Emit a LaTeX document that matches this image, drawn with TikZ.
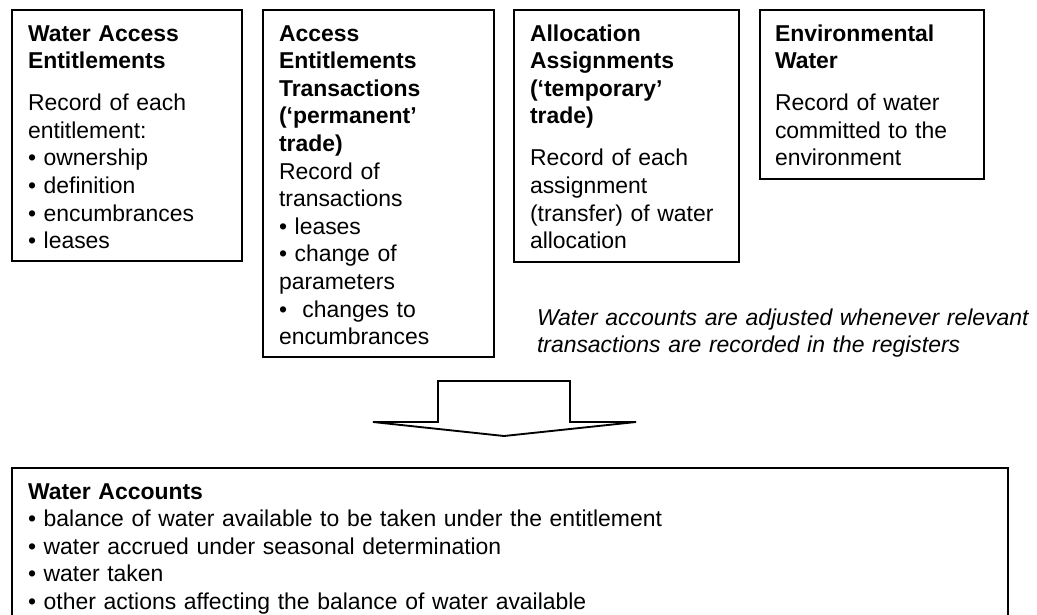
\documentclass[tikz,border=0pt]{standalone}
\usepackage{fontspec}
\setmainfont{Liberation Sans}
\newcommand{\diagfont}{\fontsize{17.2pt}{20.7pt}\selectfont}
\begin{document}
\begin{tikzpicture}[x=0.75pt,y=-0.75pt,
  boxshape/.style={draw, line width=1.4pt, inner sep=0pt, outer sep=0pt, anchor=north west},
  txt/.style={inner sep=0pt, outer sep=0pt, anchor=base west, align=left, text width=#1, font=\diagfont},
  blockarrow/.style={draw, line width=1.4pt, line join=miter, fill=white}
]
\clip (0,0) rectangle (1037,614);
\useasboundingbox (0,0) rectangle (1037,614);

% boxes
\node[boxshape, minimum width=172.5pt, minimum height=188.25pt] (b1) at (12,10) {};
\node[boxshape, minimum width=173.25pt, minimum height=260.25pt] (b2) at (263,10) {};
\node[boxshape, minimum width=168.75pt, minimum height=189pt] (b3) at (514,10) {};
\node[boxshape, minimum width=168pt, minimum height=126.75pt] (b4) at (760,10) {};
\node[boxshape, minimum width=747pt, minimum height=140pt] (b5) at (12,468) {};

% texts
\node[txt=160pt] (t1) at (28,41) {\textbf{Water Access}\\\textbf{Entitlements}\\[10.8pt]
Record of each\\entitlement:\\• ownership\\• definition\\• encumbrances\\• leases};

\node[txt=160pt] (t2) at (279,41) {\textbf{Access}\\\textbf{Entitlements}\\\textbf{Transactions}\\\textbf{(‘permanent’}\\\textbf{trade)}\\
Record of\\transactions\\• leases\\• change of\\parameters\\•~ changes to\\encumbrances};

\node[txt=160pt] (t3) at (530,41) {\textbf{Allocation}\\\textbf{Assignments}\\\textbf{(‘temporary’}\\\textbf{trade)}\\[10.8pt]
Record of each\\assignment\\(transfer) of water\\allocation};

\node[txt=160pt] (t4) at (775,41) {\textbf{Environmental}\\\textbf{Water}\\[10.8pt]
Record of water\\committed to the\\environment};

\node[txt=380pt] (note) at (537,325) {\itshape Water accounts are adjusted whenever relevant\\transactions are recorded in the registers};

\node[txt=700pt] (t5) at (28,499) {\textbf{Water Accounts}\\• balance of water available to be taken under the entitlement\\• water accrued under seasonal determination\\• water taken\\• other actions affecting the balance of water available};

% block arrow
\coordinate (aL) at (373,422);
\coordinate (aR) at (636,422);
\coordinate (aT) at (504,436);
\draw[blockarrow] (438,422) -- (438,381) -- (570,381) -- (570,422) -- (aR) -- (aT) -- (aL) -- cycle;
\end{tikzpicture}
\end{document}
